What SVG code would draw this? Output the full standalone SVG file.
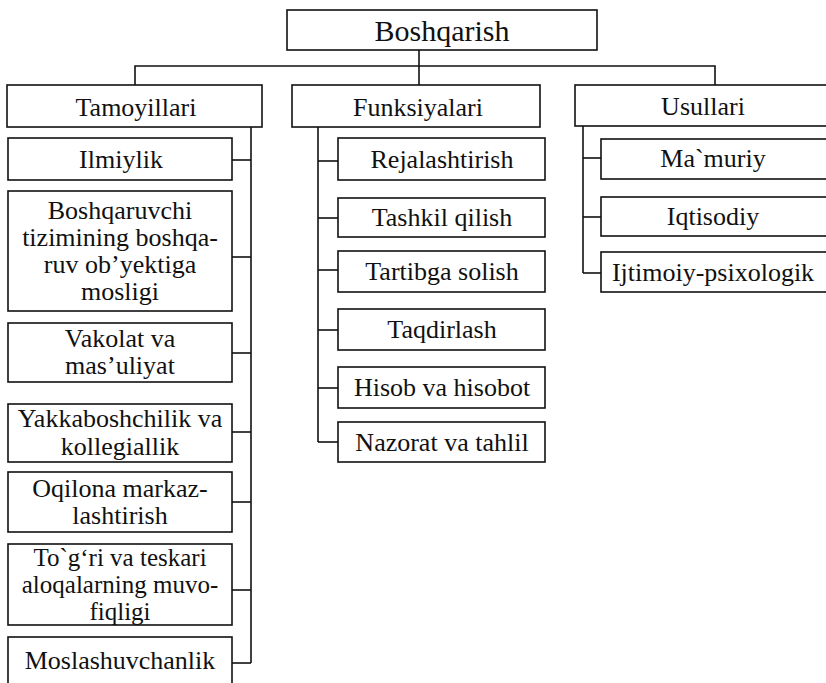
<svg xmlns="http://www.w3.org/2000/svg" width="826" height="683" viewBox="0 0 826 683">
<style>
  rect { fill: #fff; stroke: #111; stroke-width: 1.6; }
  .c path, .c line { stroke: #111; stroke-width: 1.6; fill: none; }
  text { font-family: "Liberation Serif", "Times New Roman", serif; font-size: 26px; fill: #111; text-anchor: middle; }
  .big { font-size: 30px; }
  .m { font-size: 25px; }
</style>
<rect x="0" y="0" width="826" height="683" style="fill:#fff;stroke:none"/>
<g class="c" id="connectors">
  <path d="M419 50 V85"/>
  <path d="M135 85 V66 H715 V85"/>
  <path d="M251 127 V663"/>
  <line x1="232" y1="160" x2="251" y2="160"/>
  <line x1="232" y1="257" x2="251" y2="257"/>
  <line x1="232" y1="353" x2="251" y2="353"/>
  <line x1="232" y1="432" x2="251" y2="432"/>
  <line x1="232" y1="502" x2="251" y2="502"/>
  <line x1="232" y1="590" x2="251" y2="590"/>
  <line x1="232" y1="663" x2="251" y2="663"/>
  <path d="M318 127 V442"/>
  <line x1="318" y1="161" x2="338" y2="161"/>
  <line x1="318" y1="218" x2="338" y2="218"/>
  <line x1="318" y1="270" x2="338" y2="270"/>
  <line x1="318" y1="330" x2="338" y2="330"/>
  <line x1="318" y1="388" x2="338" y2="388"/>
  <line x1="318" y1="442" x2="338" y2="442"/>
  <path d="M583 126 V273"/>
  <line x1="583" y1="158" x2="601" y2="158"/>
  <line x1="583" y1="217" x2="601" y2="217"/>
  <line x1="583" y1="273" x2="601" y2="273"/>
</g>
<g id="boshqarish"><rect x="287" y="10" width="310" height="40"/><text class="big" x="442" y="41">Boshqarish</text></g>
<g id="tamoyillari"><rect x="7" y="85" width="255" height="42"/><text x="136" y="116">Tamoyillari</text></g>
<g id="funksiyalari"><rect x="292" y="85" width="248" height="42"/><text x="418" y="116">Funksiyalari</text></g>
<g id="usullari"><rect x="575" y="85" width="260" height="41"/><text x="703" y="115">Usullari</text></g>

<g id="ilmiylik"><rect x="8" y="138" width="224" height="42"/><text x="121" y="168">Ilmiylik</text></g>
<g id="boshqaruvchi"><rect x="8" y="191" width="224" height="120"/>
  <text x="120" y="219">Boshqaruvchi</text>
  <text x="120" y="246">tizimining boshqa-</text>
  <text x="120" y="273">ruv ob’yektiga</text>
  <text x="120" y="300">mosligi</text></g>
<g id="vakolat"><rect x="8" y="323" width="224" height="59"/>
  <text x="120" y="347">Vakolat va</text>
  <text x="120" y="374">mas’uliyat</text></g>
<g id="yakkaboshchilik"><rect x="8" y="404" width="224" height="58"/>
  <text x="120" y="427">Yakkaboshchilik va</text>
  <text x="120" y="455">kollegiallik</text></g>
<g id="oqilona"><rect x="8" y="472" width="224" height="60"/>
  <text x="120" y="497">Oqilona markaz-</text>
  <text x="120" y="524">lashtirish</text></g>
<g id="togri"><rect x="8" y="544" width="224" height="81"/>
  <text class="m" x="120" y="566">To`g‘ri va teskari</text>
  <text class="m" x="120" y="593">aloqalarning  muvo-</text>
  <text class="m" x="120" y="620">fiqligi</text></g>
<g id="moslashuvchanlik"><rect x="8" y="637" width="224" height="56"/>
  <text x="120" y="669">Moslashuvchanlik</text></g>

<g id="rejalashtirish"><rect x="338" y="138" width="207" height="42"/><text x="442" y="168">Rejalashtirish</text></g>
<g id="tashkil"><rect x="338" y="198" width="207" height="39"/><text x="442" y="226">Tashkil qilish</text></g>
<g id="tartibga"><rect x="338" y="251" width="207" height="41"/><text x="442" y="280">Tartibga solish</text></g>
<g id="taqdirlash"><rect x="338" y="309" width="207" height="41"/><text x="442" y="338">Taqdirlash</text></g>
<g id="hisob"><rect x="338" y="367" width="207" height="41"/><text x="442" y="396">Hisob va hisobot</text></g>
<g id="nazorat"><rect x="338" y="422" width="207" height="40"/><text x="442" y="451">Nazorat va tahlil</text></g>

<g id="mamuriy"><rect x="601" y="139" width="232" height="40"/><text x="713" y="167">Ma`muriy</text></g>
<g id="iqtisodiy"><rect x="601" y="197" width="232" height="39"/><text x="713" y="225">Iqtisodiy</text></g>
<g id="ijtimoiy"><rect x="601" y="252" width="232" height="40"/><text x="713" y="281">Ijtimoiy-psixologik</text></g>
</svg>
